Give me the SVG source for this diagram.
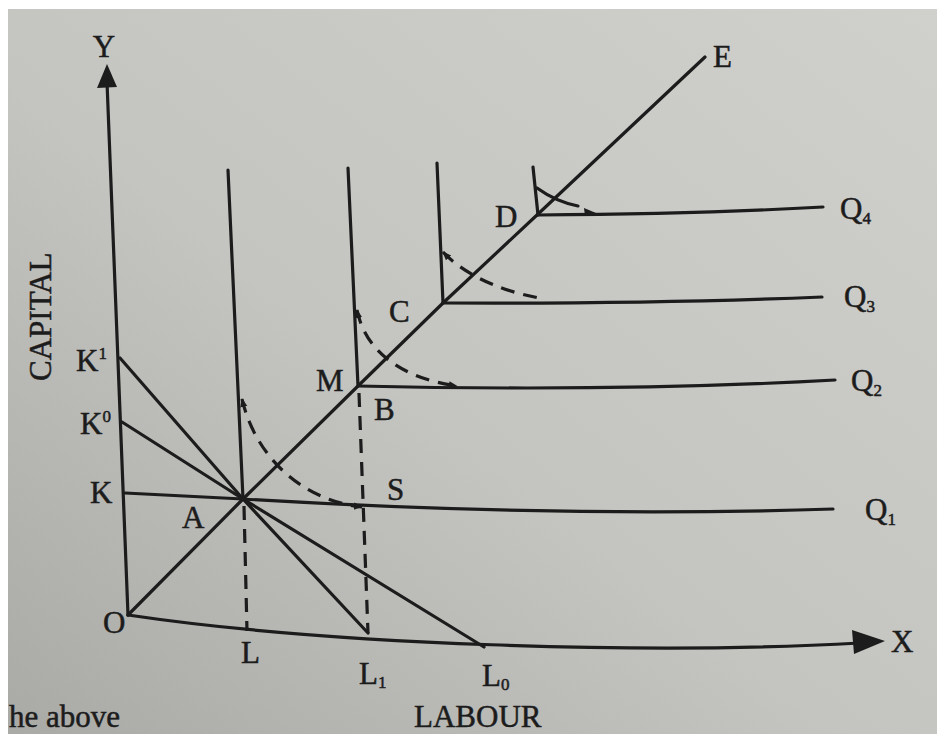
<svg xmlns="http://www.w3.org/2000/svg" width="937" height="734" viewBox="0 0 937 734">
<defs>
<linearGradient id="paper" x1="1" y1="0" x2="0" y2="1">
<stop offset="0" stop-color="#d0d0cd"/>
<stop offset="0.55" stop-color="#c4c4c1"/>
<stop offset="1" stop-color="#a9a9a6"/>
</linearGradient>
<marker id="ah" viewBox="0 0 10 10" refX="9" refY="5" markerWidth="9" markerHeight="9" markerUnits="userSpaceOnUse" orient="auto-start-reverse">
<path d="M0,1 L10,5 L0,9 Z" fill="#1c1c1c"/>
</marker>
</defs>
<style>
.ln{fill:none;stroke:#1c1c1c;stroke-width:3.2;stroke-linecap:round;stroke-linejoin:round}
.ds{fill:none;stroke:#1c1c1c;stroke-width:3.2;stroke-dasharray:14 9}
.tx{font-family:"Liberation Serif","Times New Roman",serif;font-size:31px;fill:#1c1c1c;stroke:#1c1c1c;stroke-width:0.5}
.sb{font-size:17px}
</style>
<rect x="0" y="0" width="937" height="734" fill="url(#paper)"/>
<rect x="0" y="0" width="937" height="9" fill="#ffffff"/>
<rect x="0" y="0" width="8" height="734" fill="#ffffff"/>

<g id="connectors">
<g id="axes">
<path class="ln" d="M128,615 L107,82"/>
<path d="M107,64 L97,88 L117,87 Z" fill="#1c1c1c"/>
<path class="ln" d="M128,615 C330,645 650,655 860,643"/>
<path d="M885,641 L852,630 L854,654 Z" fill="#1c1c1c"/>
</g>
<g id="ray-OE">
<path class="ln" d="M128,615 L243,499 L358,386 L443,303 L537,215 L705,57"/>
</g>
<g id="isocost">
<path class="ln" d="M120,358 L243,499 L368,633"/>
<path class="ln" d="M122,422 L243,499 L484,647"/>
</g>
<g id="isoquant-Q1">
<path class="ln" d="M228,170 L243,499"/>
<path class="ln" d="M125,493 L243,499 Q560,518 833,509"/>
</g>
<g id="isoquant-Q2">
<path class="ln" d="M348,168 L358,386"/>
<path class="ln" d="M358,386 Q620,392 835,380"/>
</g>
<g id="isoquant-Q3">
<path class="ln" d="M437,163 L443,303"/>
<path class="ln" d="M443,303 Q650,304 822,297"/>
</g>
<g id="isoquant-Q4">
<path class="ln" d="M533,167 L538,215"/>
<path class="ln" d="M538,215 Q700,214 823,207"/>
</g>
<g id="smooth-isoquants">
<path class="ds" d="M242,399 C255,455 300,500 362,507" marker-start="url(#ah)" marker-end="url(#ah)"/>
<path class="ds" d="M357,310 C365,350 400,378 457,386" marker-start="url(#ah)" marker-end="url(#ah)"/>
<path class="ds" d="M443,252 C458,268 490,290 545,299" marker-start="url(#ah)"/>
<path class="ln" d="M537,188 C548,196 563,203 578,206"/>
<path d="M596,213 L584,208 L585,216 Z" fill="#1c1c1c"/>
</g>
<g id="drop-lines">
<path class="ds" d="M244,506 L247,631"/>
<path class="ds" d="M359,393 L368,633"/>
</g>
</g>

<g id="labels">
<g id="label-Y"><text class="tx" x="104" y="57" text-anchor="middle">Y</text></g>
<g id="label-X"><text class="tx" x="891" y="652" font-size="33">X</text></g>
<g id="label-E"><text class="tx" x="713" y="67">E</text></g>
<g id="label-CAPITAL"><text class="tx" x="0" y="0" transform="translate(51,381) rotate(-90)" font-size="30">CAPITAL</text></g>
<g id="label-LABOUR"><text class="tx" x="414" y="727" font-size="40">LABOUR</text></g>
<g id="label-K1"><text class="tx" x="76" y="371">K<tspan class="sb" dy="-12">1</tspan></text></g>
<g id="label-K0"><text class="tx" x="80" y="434">K<tspan class="sb" dy="-12">0</tspan></text></g>
<g id="label-K"><text class="tx" x="90" y="503">K</text></g>
<g id="label-A"><text class="tx" x="182" y="528">A</text></g>
<g id="label-O"><text class="tx" x="103" y="633">O</text></g>
<g id="label-L"><text class="tx" x="241" y="663">L</text></g>
<g id="label-L1"><text class="tx" x="359" y="684">L<tspan class="sb" dy="4">1</tspan></text></g>
<g id="label-L0"><text class="tx" x="482" y="686">L<tspan class="sb" dy="4">0</tspan></text></g>
<g id="label-M"><text class="tx" x="316" y="391">M</text></g>
<g id="label-B"><text class="tx" x="374" y="420">B</text></g>
<g id="label-S"><text class="tx" x="387" y="500">S</text></g>
<g id="label-C"><text class="tx" x="389" y="322">C</text></g>
<g id="label-D"><text class="tx" x="495" y="227">D</text></g>
<g id="label-Q4"><text class="tx" x="840" y="219">Q<tspan class="sb" dy="5">4</tspan></text></g>
<g id="label-Q3"><text class="tx" x="844" y="307">Q<tspan class="sb" dy="5">3</tspan></text></g>
<g id="label-Q2"><text class="tx" x="851" y="391">Q<tspan class="sb" dy="5">2</tspan></text></g>
<g id="label-Q1"><text class="tx" x="865" y="520">Q<tspan class="sb" dy="5">1</tspan></text></g>
<g id="page-text"><text class="tx" x="9" y="727" font-size="27">he above</text></g>
</g>
</svg>
